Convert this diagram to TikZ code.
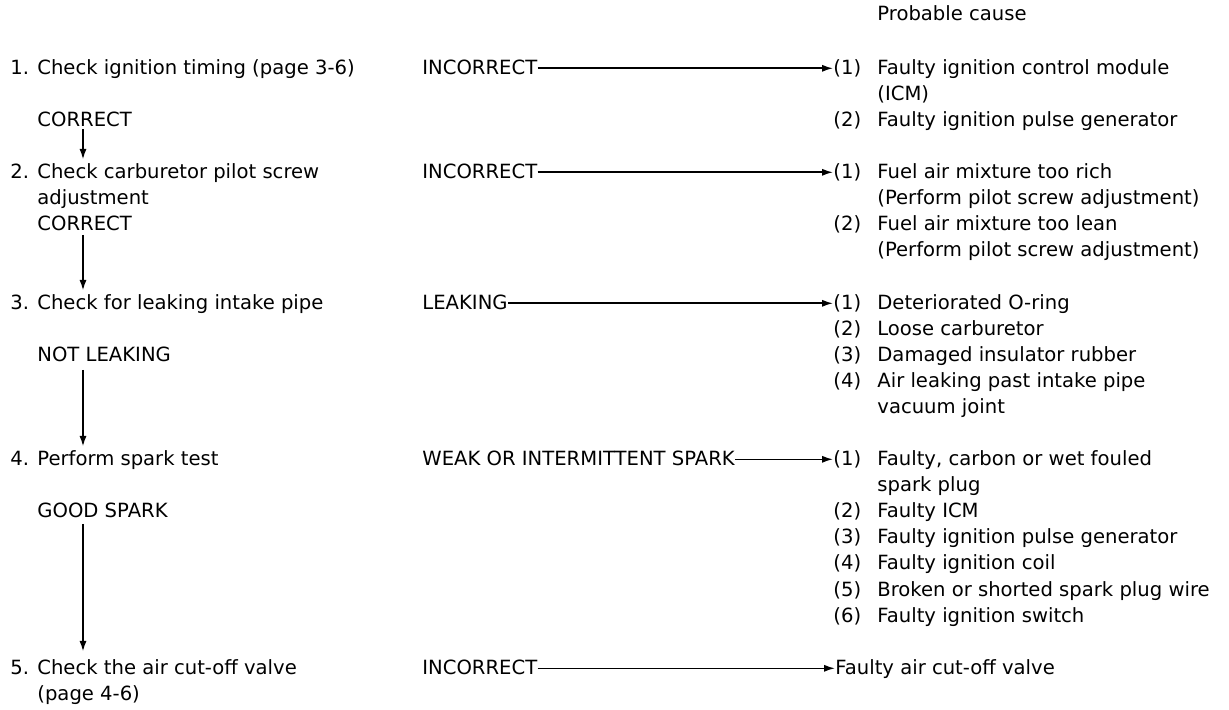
\documentclass[tikz,border=0pt]{standalone}
\usepackage{fontspec}
\setmainfont{DejaVu Sans}
\usetikzlibrary{arrows.meta}

\tikzset{
  txt/.style={anchor=base west, inner sep=0pt, font=\fontsize{9.8}{13.05}\selectfont},
  lbl/.style={txt, text height=7.2pt, text depth=1pt},
  flow/.style={-{Latex[length=5.5pt,width=3.6pt]}, line width=0.8pt},
}
\newcommand{\steps}[2]{\begin{tabular}[t]{@{}p{13.5pt}@{}l@{}}#1 & #2\end{tabular}}
\newcommand{\causes}[1]{\begin{tabular}[t]{@{}p{22pt}@{}l@{}}#1\end{tabular}}

\begin{document}
\begin{tikzpicture}[x=0.5pt,y=-0.5pt]
  \useasboundingbox (0,0) rectangle (1229,710);
  \coordinate (spine) at (83,0);

  \node[txt] (head) at (877,21) {Probable cause};

  % step 1
  \node[txt] (step1) at (10,74.5) {\steps{1.}{Check ignition timing (page 3-6)}};
  \node[lbl] (inc1) at (422,74.5) {INCORRECT};
  \node[txt] (cause1) at (833,74.5) {\causes{(1) & Faulty ignition control module\\ & (ICM)\\
    (2) & Faulty ignition pulse generator}};
  \node[lbl] (ok1) at (37,126.5) {CORRECT};

  % step 2
  \node[txt] (step2) at (10,178.5) {\steps{2.}{Check carburetor pilot screw\\ & adjustment}};
  \node[lbl] (inc2) at (422,178.5) {INCORRECT};
  \node[txt] (cause2) at (833,178.5) {\causes{(1) & Fuel air mixture too rich\\ & (Perform pilot screw adjustment)\\
    (2) & Fuel air mixture too lean\\ & (Perform pilot screw adjustment)}};
  \node[lbl] (ok2) at (37,230.5) {CORRECT};

  % step 3
  \node[txt] (step3) at (10,309.5) {\steps{3.}{Check for leaking intake pipe}};
  \node[lbl] (inc3) at (422,309.5) {LEAKING};
  \node[txt] (cause3) at (833,309.5) {\causes{(1) & Deteriorated O-ring\\ (2) & Loose carburetor\\
    (3) & Damaged insulator rubber\\ (4) & Air leaking past intake pipe\\ & vacuum joint}};
  \node[lbl] (ok3) at (37,361.5) {NOT LEAKING};

  % step 4
  \node[txt] (step4) at (10,465.5) {\steps{4.}{Perform spark test}};
  \node[lbl] (inc4) at (422,465.5) {WEAK OR INTERMITTENT SPARK};
  \node[txt] (cause4) at (833,465.5) {\causes{(1) & Faulty, carbon or wet fouled\\ & spark plug\\
    (2) & Faulty ICM\\ (3) & Faulty ignition pulse generator\\ (4) & Faulty ignition coil\\
    (5) & Broken or shorted spark plug wire\\ (6) & Faulty ignition switch}};
  \node[lbl] (ok4) at (37,517.5) {GOOD SPARK};

  % step 5
  \node[txt] (step5) at (10,674.5) {\steps{5.}{Check the air cut-off valve\\ & (page 4-6)}};
  \node[lbl] (inc5) at (422,674.5) {INCORRECT};
  \node[lbl] (cause5) at (835,674.5) {Faulty air cut-off valve};

  % arrows
  \draw[flow] (inc1.east) -- (inc1.east -| cause1.west);
  \draw[flow] (inc2.east) -- (inc2.east -| cause2.west);
  \draw[flow] (inc3.east) -- (inc3.east -| cause3.west);
  \draw[flow] (inc4.east) -- (inc4.east -| cause4.west);
  \draw[flow] (inc5.east) -- (cause5.west);

  \draw[flow,line width=1pt] (ok1.south -| spine) -- (step2.north -| spine);
  \draw[flow,line width=1pt,shorten <=1pt] (ok2.south -| spine) -- (step3.north -| spine);
  \draw[flow,line width=1pt,shorten <=3pt] (ok3.south -| spine) -- (step4.north -| spine);
  \draw[flow,line width=1pt,shorten <=2pt,shorten >=2pt] (ok4.south -| spine) -- (step5.north -| spine);
\end{tikzpicture}
\end{document}
